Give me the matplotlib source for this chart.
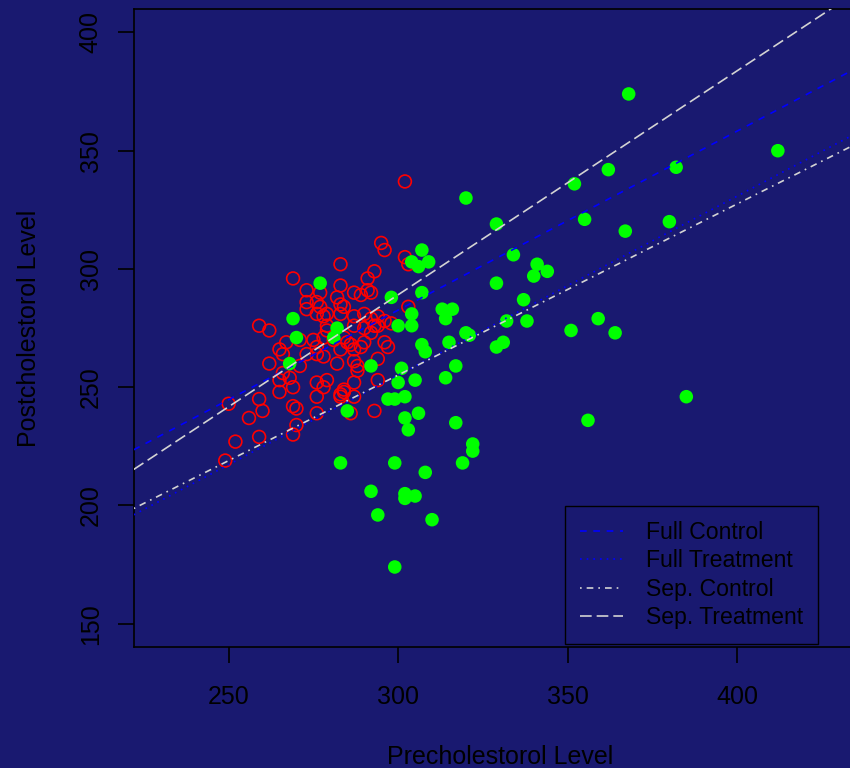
import numpy as np
import matplotlib
matplotlib.use("Agg")
import matplotlib.pyplot as plt

plt.rcParams['font.family'] = ['Liberation Sans', 'DejaVu Sans']

# ------------------------------------------------------------------------
# data: (pre, post) cholesterol
ctrl_pre = [269, 273, 273, 259, 262, 267, 265, 266, 271, 273, 262, 271, 266, 265,
            268, 269, 265, 259, 260, 250, 269, 270, 256, 270, 269, 259, 252, 249,
            295, 296, 283, 302, 303, 293, 291, 291, 292, 283, 277, 287, 289, 282,
            283, 284, 276, 277, 273, 279, 303, 302,
            276, 278, 279, 279, 283, 287, 290, 292, 294, 294, 296, 290, 293, 292,
            287, 298, 275, 276, 276, 278, 278, 281, 284, 285, 286, 290, 283, 287,
            289, 296, 297, 282, 287, 288, 288, 294, 276, 278, 276, 279, 283, 284,
            284, 283, 287, 287, 294, 276, 286, 293]
ctrl_post = [296, 291, 286, 276, 274, 269, 266, 264, 270, 264, 260, 259, 256, 253,
             254, 250, 248, 245, 240, 243, 242, 241, 237, 234, 230, 229, 227, 219,
             311, 308, 302, 305, 302, 299, 296, 291, 290, 293, 290, 290, 289, 288,
             285, 284, 286, 284, 283, 281, 284, 337,
             281, 280, 276, 274, 281, 280, 281, 279, 280, 276, 278, 275, 276, 273,
             276, 277, 270, 267, 264, 263, 271, 270, 271, 269, 268, 269, 266, 266,
             267, 269, 267, 260, 261, 259, 257, 262, 252, 250, 246, 253, 247, 248,
             249, 246, 246, 252, 253, 239, 239, 240]

trt_pre = [368, 412, 362, 382, 352, 320, 329, 355, 367, 380, 307, 304, 309, 306,
           334, 341, 344, 340, 277, 298, 307, 329, 337, 304, 313, 316, 314, 332,
           338, 359, 269, 300, 304, 282, 281, 270, 315, 307, 308, 320, 321, 329,
           331, 351, 364, 268, 292, 317, 301, 300, 305, 314, 297, 299, 302, 306,
           302, 303, 317, 385, 356, 285, 283, 299, 319, 322, 322, 308, 292, 302,
           302, 305, 294, 310, 299]
trt_post = [374, 350, 342, 343, 336, 330, 319, 321, 316, 320, 308, 303, 303, 301,
            306, 302, 299, 297, 294, 288, 290, 294, 287, 281, 283, 283, 279, 278,
            278, 279, 279, 276, 276, 275, 271, 271, 269, 268, 265, 273, 272, 267,
            269, 274, 273, 260, 259, 259, 258, 252, 253, 254, 245, 245, 246, 239,
            237, 232, 235, 246, 236, 240, 218, 218, 218, 226, 223, 214, 206, 205,
            203, 204, 196, 194, 174]

# fitted lines: intercept, slope
fit_names = ['Full Control', 'Full Treatment', 'Sep. Control', 'Sep. Treatment']
fit_int = [55.5, 28.0, 38.1, 5.0]
fit_slope = [0.757, 0.757, 0.7235, 0.947]
fit_col = ['#0000FF', '#0000FF', 'lightgray', 'lightgray']
fit_lty = [(0, (4, 4)), (0, (1, 3)), (0, (1, 3, 4, 3)), (0, (7, 3))]

bg = '#191970'

# ------------------------------------------------------------------------
fig = plt.figure(figsize=(8.5, 7.68), dpi=100, facecolor=bg)
ax = fig.add_axes([133.7/850, 1-647.4/768, (866-133.7)/850, (647.4-8.8)/768])
ax.set_facecolor(bg)
ax.set_xlim(222, 438)
ax.set_ylim(140, 410)

ax.scatter(ctrl_pre, ctrl_post, s=85, facecolors='none', edgecolors='#FF0000',
           linewidths=1.2, zorder=2)
ax.scatter(trt_pre, trt_post, s=95, c='#00FF00', edgecolors='none', zorder=2)

xs = np.array(ax.get_xlim())
for nm, b0, b1, col, ls in zip(fit_names, fit_int, fit_slope, fit_col, fit_lty):
    ax.plot(xs, b0 + b1*xs, color=col, linestyle=ls, lw=1.2, label=nm, zorder=3)

ax.set_xticks([250, 300, 350, 400])
ax.set_yticks([150, 200, 250, 300, 350, 400])
ax.tick_params(direction='out', length=11.3, width=1.2, colors='black',
               labelsize=18, labelcolor='black')
ax.tick_params(axis='x', pad=16)
ax.tick_params(axis='y', pad=11)
plt.setp(ax.get_yticklabels(), rotation=90, va='center')
for sp in ax.spines.values():
    sp.set_color('black')
    sp.set_linewidth(1.2)

ax.set_xlabel('Precholestorol Level', fontsize=18, color='black', labelpad=26)
ax.set_ylabel('Postcholestorol Level', fontsize=18, color='black', labelpad=27)

leg = ax.legend(loc='lower right', bbox_to_anchor=(818/850, 1-644/768),
                bbox_transform=fig.transFigure, borderaxespad=0, fontsize=16.6,
                fancybox=False, facecolor=bg, edgecolor='black', framealpha=1,
                handlelength=1.85, handletextpad=1.0, labelspacing=0.23,
                borderpad=0.65)
leg.get_frame().set_linewidth(1.0)
for t in leg.get_texts():
    t.set_color('black')

fig.savefig('out.png', dpi=100, facecolor=bg)
